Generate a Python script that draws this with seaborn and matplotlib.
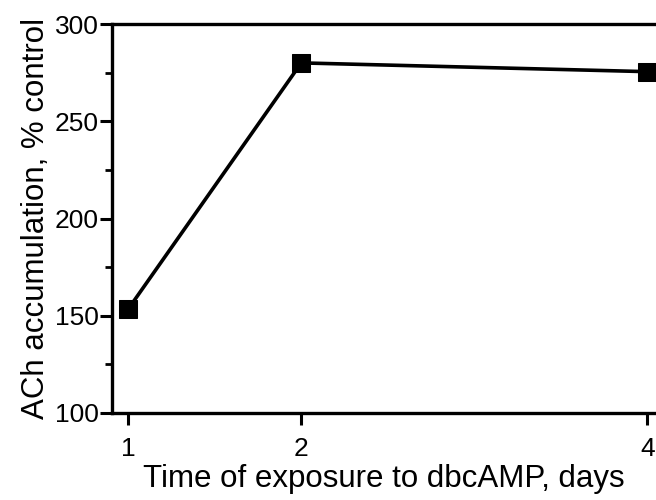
import matplotlib
matplotlib.use("Agg")
import matplotlib.pyplot as plt
import seaborn as sns
import pandas as pd
from matplotlib.ticker import MultipleLocator

days = [1, 2, 4]
ach_pct = [153.5, 280, 275.5]
x_ticks = [1, 2, 4]
y_ticks = [100, 150, 200, 250, 300]

sns.set_theme(style="ticks")
plt.rcParams['font.family'] = ['Liberation Sans', 'DejaVu Sans']

df = pd.DataFrame({"day": days, "ach": ach_pct})

fig = plt.figure(figsize=(6.56, 5.0), dpi=100)
ax = fig.add_axes([0.171, 0.174, 0.829, 0.778])
sns.lineplot(data=df, x="day", y="ach", ax=ax, color="black", linewidth=2.6,
             marker="s", markersize=13, markeredgecolor="black", markerfacecolor="black")

ax.set_xlim(0.907, 4.05)
ax.set_ylim(100, 300)
ax.set_xticks(x_ticks)
ax.set_xticklabels([str(t) for t in x_ticks])
ax.set_yticks(y_ticks)
ax.yaxis.set_minor_locator(MultipleLocator(25))
ax.tick_params(axis="both", which="major", direction="out", length=8.5, width=2.2,
               labelsize=19, color="black", labelcolor="black")
ax.tick_params(axis="y", which="major", pad=1)
ax.tick_params(axis="x", which="major", pad=9)
ax.tick_params(axis="y", which="minor", direction="out", length=5, width=2.0, color="black")

for side in ["left", "bottom", "top"]:
    ax.spines[side].set_visible(True)
    ax.spines[side].set_linewidth(2.4)
    ax.spines[side].set_color("black")
ax.spines["right"].set_visible(False)

ax.set_xlabel("Time of exposure to dbcAMP, days", fontsize=22.5, color="black", labelpad=2)
ax.set_ylabel("ACh accumulation, % control", fontsize=22.5, color="black", labelpad=3)

fig.savefig("out.png", dpi=100)
